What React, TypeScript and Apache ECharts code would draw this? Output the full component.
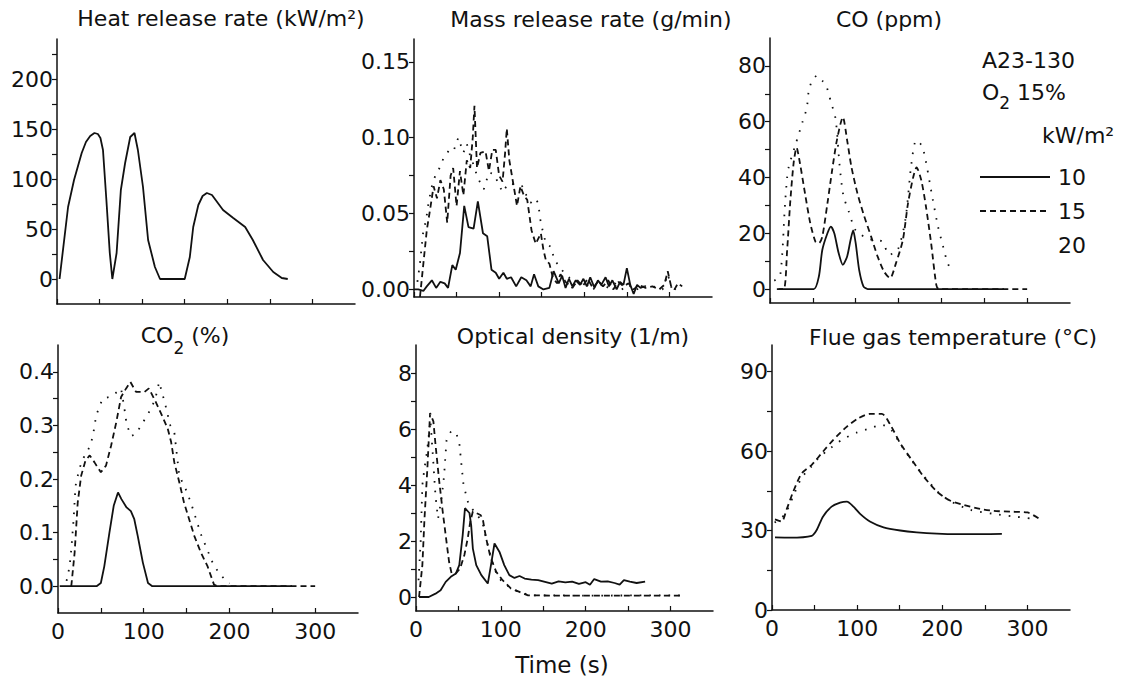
import React, { useEffect, useRef } from "react";
import * as echarts from "echarts";

type P = [number, number][];

// ---------- text ----------
const panelTitles = [
  "Heat release rate (kW/m²)",
  "Mass release rate (g/min)",
  "CO (ppm)",
  "{a|CO}{b|2}{a| (%)}",
  "Optical density (1/m)",
  "Flue gas temperature (°C)",
];
const xAxisTitle = "Time (s)";
const legendHeader = ["A23-130", "{a|O}{b|2}{a| 15%}", "kW/m²"];
const legendValues = ["10", "15", "20"];

// ---------- axes ----------
const timeTicks = [0, 100, 200, 300];
const timeMinorTicks = [50, 150, 250];

const hrrTicks = [0, 50, 100, 150, 200];
const hrrMinor = [25, 75, 125, 175, 225];
const massTicks = [0, 0.05, 0.1, 0.15];
const massMinor = [0.025, 0.075, 0.125];
const coTicks = [0, 20, 40, 60, 80];
const coMinor = [10, 30, 50, 70];
const co2Ticks = [0, 0.1, 0.2, 0.3, 0.4];
const co2Minor = [0.05, 0.15, 0.25, 0.35];
const odTicks = [0, 2, 4, 6, 8];
const odMinor = [1, 3, 5, 7];
const flueTicks = [0, 30, 60, 90];
const flueMinor = [15, 45, 75];

// ---------- data: [time (s), value] ----------
const hrr10: P = [[3,0],[13,72],[20,99],[29,126],[34,137],[39,143],[44,146],[48,145],[51,141],[54,129],[58,79],[62,26],[65,0],[70,26],[75,89],[80,116],[86,142],[91,146],[95,129],[101,92],[107,39],[115,12],[121,0],[150,0],[156,22],[160,52],[166,74],[171,83],[176,86],[182,84],[195,69],[207,61],[221,52],[230,39],[242,19],[254,7],[264,1],[271,0]];

const mass10: P = [[0,0],[5,0],[11,-0.001],[15,0.002],[21,0.006],[26,0.001],[31,0.005],[36,0.004],[40,0.001],[45,0.016],[49,0.013],[54,0.024],[59,0.055],[64,0.041],[70,0.04],[75,0.058],[81,0.037],[86,0.035],[91,0.013],[96,0.011],[100,0.007],[105,0.011],[109,0.007],[114,0.008],[120,0.002],[126,0.008],[132,0.006],[137,0.002],[141,0.01],[146,0.002],[152,0],[159,0.001],[164,0.012],[170,0.004],[174,0.009],[178,0.001],[182,0.007],[186,0.002],[190,0.006],[195,0.003],[199,0.007],[203,0.002],[207,0.008],[212,0.001],[216,0.006],[220,0.003],[225,0.008],[229,0.002],[233,0.006],[238,0],[242,0.005],[246,0.003],[250,0.014],[254,0.003],[258,-0.003],[262,0.003],[266,0.001],[270,0.002]];
const mass15: P = [[7,-0.005],[11,0.017],[15,0.039],[19,0.053],[23,0.068],[27,0.06],[31,0.072],[35,0.066],[39,0.044],[43,0.075],[46,0.08],[50,0.055],[54,0.078],[58,0.062],[62,0.085],[66,0.08],[69,0.1],[71,0.121],[74,0.08],[78,0.09],[84,0.091],[88,0.078],[92,0.092],[96,0.092],[100,0.075],[104,0.071],[107,0.09],[109,0.106],[112,0.085],[115,0.075],[121,0.055],[125,0.068],[129,0.062],[133,0.059],[138,0.039],[143,0.03],[149,0.037],[152,0.026],[155,0.019],[159,0.017],[163,0.008],[168,0.004],[172,0.01],[178,0.005],[186,0.001],[192,0.006],[198,0.002],[204,0.007],[210,0.001],[216,0.005],[222,0.002],[228,0.006],[234,0],[240,0.005],[246,0.002],[252,0.004],[258,0],[264,0.003],[272,0.001],[280,0.002],[288,0],[294,0.003],[298,0.012],[302,0.002],[306,0],[310,0.004],[315,0.002]];
const mass20: P = [[4,0.005],[7,0.017],[11,0.039],[14,0.045],[17,0.057],[21,0.068],[25,0.075],[30,0.08],[35,0.087],[39,0.09],[43,0.093],[47,0.092],[52,0.1],[55,0.095],[58,0.09],[62,0.096],[66,0.088],[70,0.082],[74,0.075],[78,0.07],[82,0.066],[88,0.077],[94,0.076],[99,0.07],[104,0.064],[111,0.07],[119,0.069],[127,0.068],[132,0.062],[137,0.057],[142,0.06],[146,0.057],[148,0.047],[151,0.039],[155,0.03],[161,0.028],[165,0.019],[170,0.016],[176,0.011],[182,0.008],[188,0.003],[194,0.006],[200,0.001],[206,0.004],[212,0],[220,0.005],[228,0.001],[236,0.004],[244,0],[252,0.003],[260,-0.001],[268,0.003],[276,0.001],[284,0.002],[292,0],[298,0.01],[304,-0.002],[310,0.003]];

const co10: P = [[10,0],[51,0],[57,4.5],[61,14],[67,20],[71,22.4],[75,20],[80,13],[85,8.7],[90,11.7],[94,17.6],[97,21],[100,16.4],[104,6.9],[109,1],[114,0],[273,0]];
const co15: P = [[8,0],[16,0],[20,14],[23.5,30.7],[27.5,45],[31,50.7],[35,45],[41,34],[47,23.6],[53,17],[57,16.4],[61,18.8],[67,30.7],[72.5,42.6],[78,53.3],[85,61.6],[90,53.3],[95,43.8],[102,34.3],[110,26],[118,18.8],[125.5,11.7],[133,6.3],[140,3.9],[147,9.3],[155,17.6],[161,30.7],[167,40],[171,43.6],[176.5,39],[182,29.5],[188,16.4],[194,1.5],[197,0],[300,0]];
const co20: P = [[5,3],[12,5],[17.6,30.7],[20,40],[22,44],[30,52],[38,60],[43,65],[45,70.6],[49,74.7],[55,76.5],[61,74.7],[65.5,73],[70.6,67.6],[76.5,61],[81,45],[83.5,37.8],[86,33],[92,27.7],[100,21],[115,18],[131,17],[139,12.3],[149,14],[158,25],[165,45],[170.6,53.3],[178,51],[190,31.9],[196,22.4],[202,15.2],[206,10.5],[212,5.7]];

const co2_10: P = [[2,0],[45,0],[50,0.006],[54,0.037],[60,0.1],[65,0.15],[70,0.175],[74,0.1625],[80,0.147],[85,0.14],[89,0.125],[93,0.094],[99,0.044],[105,0.006],[110,0],[273,0]];
const co2_15: P = [[15.5,0],[19.4,0.0625],[23,0.156],[27,0.206],[32,0.234],[37,0.244],[42.6,0.231],[50,0.2125],[56,0.225],[62,0.2625],[68,0.306],[73.6,0.353],[79.5,0.369],[84.5,0.381],[91,0.3625],[101,0.3625],[106,0.369],[114,0.344],[122,0.316],[128,0.294],[132,0.269],[135.7,0.231],[141.5,0.194],[147,0.156],[153,0.125],[159,0.094],[166.7,0.0625],[174.4,0.0375],[182,0.003],[186,0],[300,0]];
const co2_20: P = [[10,0.01],[13.6,0.0375],[15.5,0.069],[18,0.12],[20.5,0.1875],[25,0.22],[30,0.24],[37,0.26],[40.7,0.28],[44.6,0.319],[52,0.35],[60,0.353],[67,0.36],[73.6,0.369],[77.5,0.331],[80,0.303],[85,0.28],[91,0.284],[97,0.3],[103,0.316],[108.5,0.331],[113.6,0.35],[118,0.381],[125,0.34],[131,0.3],[135.7,0.2875],[141.5,0.206],[149,0.181],[155,0.156],[166.7,0.097],[182,0.0375],[196,0.009],[200,0.005]];

const od10: P = [[3.6,0],[15,0],[23,0.12],[29,0.24],[35,0.54],[41,0.72],[47,0.84],[51,1.14],[55,2.2],[57.7,3.17],[63,3.0],[65,2.57],[67,1.73],[71,1.14],[77,0.78],[84.6,0.48],[87.7,1.02],[92.5,1.91],[98.4,1.61],[104,1.14],[110,0.78],[116,0.68],[122,0.75],[128,0.66],[136,0.62],[144,0.6],[152,0.54],[160,0.48],[168,0.56],[176,0.52],[184,0.55],[192,0.47],[200,0.53],[205,0.44],[210,0.64],[218,0.55],[226,0.56],[234,0.5],[240,0.44],[245,0.6],[252,0.55],[260,0.5],[270,0.55]];
const od15: P = [[3.6,0],[7.5,1.14],[10,2.8],[13.4,4.6],[16.6,6.57],[20.5,6.27],[23,5.44],[27,4.24],[31,3.17],[35,2.2],[39,1.25],[42,0.84],[47,0.84],[52,1.02],[57,1.5],[61,2.1],[64,2.7],[67,3.05],[71,3.0],[76,2.93],[78.6,2.8],[82.6,2.1],[87.7,1.43],[94.5,0.9],[102,0.6],[112,0.3],[122,0.18],[132,0.06],[160,0.05],[220,0.05],[312,0.05]];
const od20: P = [[3,0.6],[5.5,2.0],[7.5,4.0],[10,4.6],[13,5.2],[17,6.3],[20,5.0],[23,3.6],[26,2.8],[30,3.5],[33,4.3],[36,5.6],[41,5.9],[47,5.9],[51,5.5],[56,4.0],[62,3.3],[70,3.0],[78,2.7],[85,1.8],[92,1.0],[100,0.6],[110,0.35],[120,0.2],[130,0.1],[140,0.06],[200,0.05],[312,0.06]];

const flue10: P = [[3.5,27.4],[21,27.3],[46.7,28],[52.5,30.2],[60,35.3],[70,39],[80,40.5],[88,40.9],[95.7,39],[103.5,36.3],[115,33.4],[131,31.2],[150.6,30],[170,29.3],[193.7,28.8],[217,28.6],[244.7,28.6],[270,28.7]];
const flue15: P = [[3.5,34.2],[11.4,33.4],[17,37.8],[25,44.7],[35,51.6],[46.7,54.8],[60,59.8],[72,64.2],[88,69.2],[101.6,72.4],[115,74],[129,74],[139,69.9],[150.6,62.9],[164,56.7],[178,50.4],[193.7,44.7],[209,41.3],[225,39.7],[244.7,38.1],[260.4,37.4],[280,37.1],[300,36.8],[313,34.6]];
const flue20: P = [[3,33],[15,36],[25,43],[35,50],[46,54],[55,57.5],[66,60.4],[82,64.2],[100,67],[115,68.5],[129,69.9],[140,68],[150,63],[165,56],[180,50],[195,44.5],[210,41],[233,37.8],[260,36.3],[284,35.3],[311,34.2]];

// ---------- styling ----------
const FONT = "DejaVu Sans";
const INK = "#111111";
const FS = 22;
const lineTypes: any[] = ["solid", [6, 4], [1.6, 8]];

function buildOption() {
  const panels = [
    { rect: [57, 39, 298, 265], range: [-25, 240], major: hrrTicks, minor: hrrMinor, dec: 0, series: [hrr10], bottom: false, smooth: false },
    { rect: [414, 39, 298, 258], range: [-0.005, 0.165], major: massTicks, minor: massMinor, dec: 2, series: [mass10, mass15, mass20], bottom: false, smooth: false },
    { rect: [770, 38, 300, 265], range: [-5, 90], major: coTicks, minor: coMinor, dec: 0, series: [co10, co15, co20], bottom: false, smooth: true },
    { rect: [58, 345, 300, 268], range: [-0.05, 0.45], major: co2Ticks, minor: co2Minor, dec: 1, series: [co2_10, co2_15, co2_20], bottom: true, smooth: false },
    { rect: [416, 345, 297, 266], range: [-0.5, 9], major: odTicks, minor: odMinor, dec: 0, series: [od10, od15, od20], bottom: true, smooth: false },
    { rect: [772, 345, 298, 265], range: [0, 100], major: flueTicks, minor: flueMinor, dec: 0, series: [flue10, flue15, flue20], bottom: true, smooth: true },
  ];
  const axisLineStyle = { color: INK, width: 1.5 };
  const grid: any[] = [];
  const xAxis: any[] = [];
  const yAxis: any[] = [];
  const series: any[] = [];
  panels.forEach((p, i) => {
    grid.push({ left: p.rect[0], top: p.rect[1], width: p.rect[2], height: p.rect[3], containLabel: false });
    xAxis.push({
      gridIndex: i, type: "value", min: 0, max: 350,
      axisLine: { show: true, onZero: false, lineStyle: axisLineStyle },
      axisTick: { show: true, inside: true, length: 5, customValues: [...timeTicks, ...timeMinorTicks], lineStyle: { color: INK, width: 1.2 } },
      axisLabel: { show: p.bottom, customValues: timeTicks, fontFamily: FONT, fontSize: FS, color: INK, margin: 7 },
      splitLine: { show: false },
    });
    yAxis.push({
      gridIndex: i, type: "value", min: p.range[0], max: p.range[1],
      axisLine: { show: true, onZero: false, lineStyle: axisLineStyle },
      axisTick: { show: true, inside: false, length: 5, customValues: [...p.major, ...p.minor], lineStyle: { color: INK, width: 1.2 } },
      axisLabel: {
        show: true, customValues: p.major, fontFamily: FONT, fontSize: FS, color: INK, margin: 4,
        formatter: (v: number) => Number(v).toFixed(p.dec),
      },
      splitLine: { show: false },
    });
    p.series.forEach((d, k) => {
      series.push({
        type: "line", xAxisIndex: i, yAxisIndex: i, data: d,
        showSymbol: false, symbol: "none", silent: true,
        smooth: p.smooth ? 0.25 : false,
        lineStyle: { color: INK, width: 1.8, type: lineTypes[k] },
      });
    });
  });

  const titlePos = [[221, 18], [591, 19], [889, 19], [185, 335], [573, 336], [953, 337]];
  const richBase = {
    a: { fontSize: FS, lineHeight: 26, fontFamily: FONT, fill: INK },
    b: { fontSize: 17, lineHeight: 17, fontFamily: FONT, fill: INK, padding: [26, 0, 0, 0] },
  };
  const graphic: any[] = panelTitles.map((t, i) => ({
    type: "text", x: titlePos[i][0], y: titlePos[i][1], silent: true,
    style: {
      text: t, rich: richBase, fill: INK, fontFamily: FONT, fontSize: FS,
      align: "center", verticalAlign: "middle",
    },
  }));
  graphic.push({
    type: "text", x: 562, y: 665, silent: true,
    style: { text: xAxisTitle, fill: INK, fontFamily: FONT, fontSize: 23, align: "center", verticalAlign: "middle" },
  });
  // legend block
  graphic.push({
    type: "text", x: 982, y: 60, silent: true,
    style: { text: legendHeader[0], fill: INK, fontFamily: FONT, fontSize: FS, align: "left", verticalAlign: "middle" },
  });
  graphic.push({
    type: "text", x: 982, y: 92, silent: true,
    style: {
      text: legendHeader[1], fill: INK, fontFamily: FONT, fontSize: FS, align: "left", verticalAlign: "middle",
      rich: {
        a: { fontSize: FS, lineHeight: 26, fontFamily: FONT, fill: INK },
        b: { fontSize: 17, lineHeight: 17, fontFamily: FONT, fill: INK, padding: [22, 0, 0, 0] },
      },
    },
  });
  graphic.push({
    type: "text", x: 1042, y: 135, silent: true,
    style: { text: legendHeader[2], fill: INK, fontFamily: FONT, fontSize: FS, align: "left", verticalAlign: "middle" },
  });
  const legendY = [177, 211, 245];
  legendValues.forEach((v, k) => {
    if (k < 2) {
      graphic.push({
        type: "line", silent: true,
        shape: { x1: 980, y1: legendY[k], x2: 1050, y2: legendY[k] },
        style: { stroke: INK, lineWidth: 1.8, lineDash: k === 0 ? null : [6, 4] },
      });
    }
    graphic.push({
      type: "text", x: 1058, y: legendY[k], silent: true,
      style: { text: v, fill: INK, fontFamily: FONT, fontSize: FS, align: "left", verticalAlign: "middle" },
    });
  });

  return {
    animation: false,
    backgroundColor: "#ffffff",
    textStyle: { fontFamily: FONT },
    grid, xAxis, yAxis, series, graphic,
  };
}

export default function App() {
  const ref = useRef<HTMLDivElement>(null);
  useEffect(() => {
    if (!ref.current) return;
    const chart = echarts.init(ref.current, null, { renderer: "svg" });
    chart.setOption(buildOption() as any);
    return () => chart.dispose();
  }, []);
  return (
    <div
      ref={ref}
      style={{ position: "fixed", left: 0, top: 0, width: 1126, height: 681, background: "#fff" }}
    />
  );
}
